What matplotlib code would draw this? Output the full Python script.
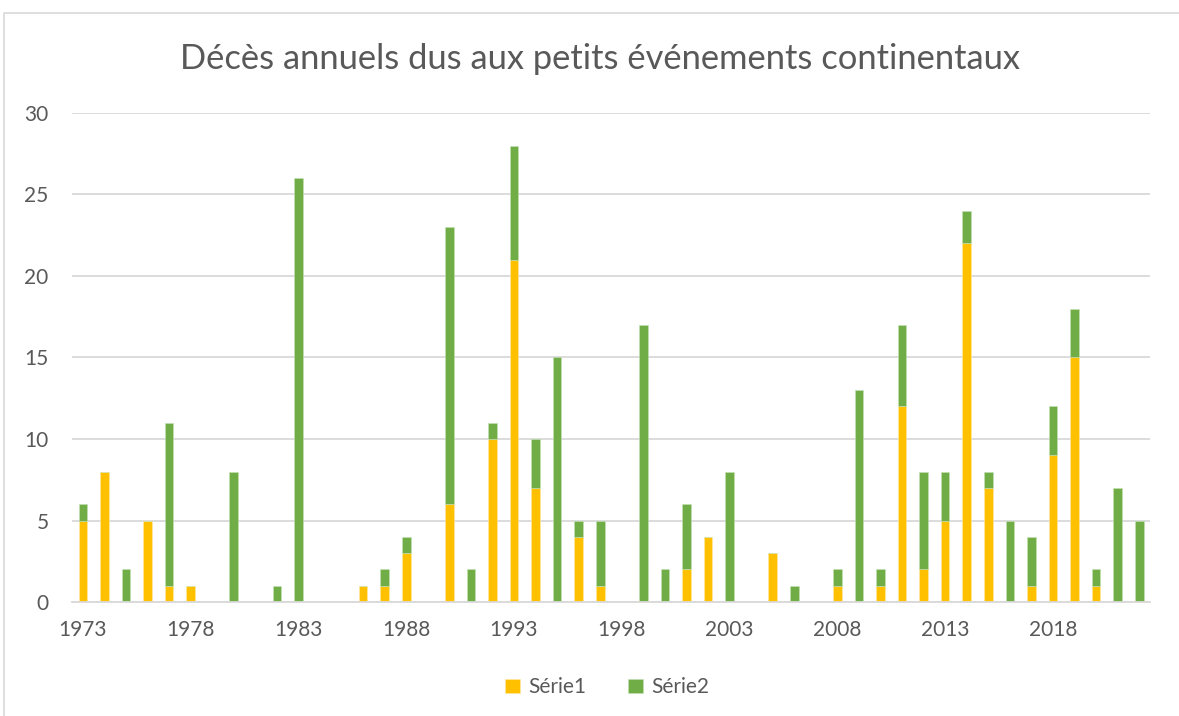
import matplotlib.pyplot as plt
import numpy as np
from matplotlib.patches import Rectangle

years = list(range(1973, 2023))
serie1 = [5, 8, 0, 5, 1, 1, 0, 0, 0, 0,
          0, 0, 0, 1, 1, 3, 0, 6, 0, 10,
          21, 7, 0, 4, 1, 0, 0, 0, 2, 4,
          0, 0, 3, 0, 0, 1, 0, 1, 12, 2,
          5, 22, 7, 0, 1, 9, 15, 1, 0, 0]
serie2 = [1, 0, 2, 0, 10, 0, 0, 8, 0, 1,
          26, 0, 0, 0, 1, 1, 0, 17, 2, 1,
          7, 3, 15, 1, 4, 0, 17, 2, 4, 0,
          8, 0, 0, 1, 0, 1, 13, 1, 5, 6,
          3, 2, 1, 5, 3, 3, 3, 1, 7, 5]
labels = ['Série1', 'Série2']
title = 'Décès annuels dus aux petits événements continentaux'

plt.rcParams['font.family'] = ['Lato', 'DejaVu Sans']
grey = '#595959'

fig = plt.figure(figsize=(11.79, 7.16), dpi=100)
fig.patches.append(Rectangle((4 / 1179, -0.01), 1.2, 1 - 13 / 716 + 0.01, transform=fig.transFigure,
                             fill=False, edgecolor='#D9D9D9', linewidth=1.2))
ax = fig.add_axes([0.0611, 0.1592, 0.9143, 0.683])

x = np.arange(len(years))
ax.bar(x, serie1, width=0.4, color='#FFC000', edgecolor='#FFE9A6', linewidth=0.4, label=labels[0], zorder=3)
ax.bar(x, serie2, bottom=serie1, width=0.4, color='#70AD47', edgecolor='#C5E0B4', linewidth=0.4,
       label=labels[1], zorder=3)

ax.set_xlim(-0.5, len(years) - 0.5)
ax.set_ylim(0, 30)
ax.set_yticks(range(0, 31, 5))
ax.set_xticks(x[::5])
ax.set_xticklabels([str(y) for y in years[::5]])
ax.grid(axis='y', color='#D9D9D9', linewidth=1.3, zorder=0)
for s in ['top', 'right', 'left']:
    ax.spines[s].set_visible(False)
ax.spines['bottom'].set_color('#D9D9D9')
ax.spines['bottom'].set_linewidth(1.3)
ax.spines['bottom'].set_zorder(4)
ax.tick_params(length=0, labelsize=15, colors=grey)
ax.tick_params(axis='x', pad=13)
ax.tick_params(axis='y', pad=17)

fig.text(0.509, 0.917, title, ha='center', va='center', fontsize=24.8, color=grey)
fig.legend(loc='center', bbox_to_anchor=(0.515, 0.04), ncol=2, frameon=False, fontsize=15,
           labelcolor=grey, handlelength=0.7, handleheight=0.7, handletextpad=0.4, columnspacing=2.0)

fig.savefig('out.png')
